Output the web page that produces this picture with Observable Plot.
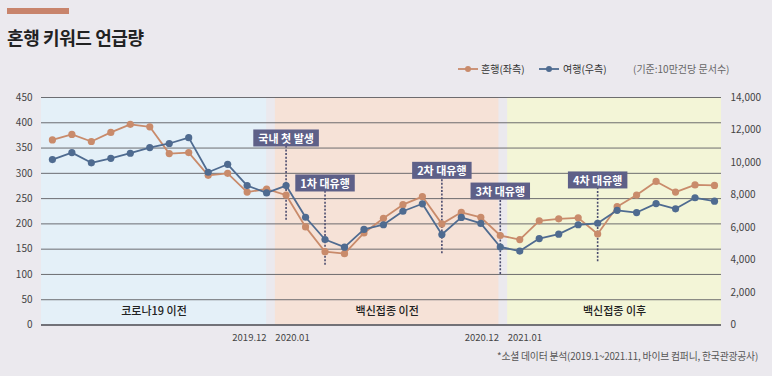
<!DOCTYPE html>
<html><head><meta charset="utf-8">
<script src="https://cdn.jsdelivr.net/npm/d3@7"></script>
<script src="https://cdn.jsdelivr.net/npm/@observablehq/plot@0.6"></script>
<style>
body{margin:0;background:#ebe9ee;font-family:"Noto Sans CJK KR","Noto Sans",sans-serif;}
#wrap{position:relative;width:772px;height:376px;overflow:hidden;background:#ebe9ee;}
.bar{position:absolute;left:7px;top:8px;width:62px;height:6px;background:#c8846c;}
.title{position:absolute;left:7px;top:28px;font-size:18px;font-weight:bold;line-height:18px;color:#222;letter-spacing:-0.4px;}
.lg{position:absolute;top:62px;font-size:10px;line-height:14px;color:#333;white-space:nowrap;}
.lg svg{display:block;}
#chart{position:absolute;left:0;top:85px;}
.caption{position:absolute;right:14px;top:350px;font-size:9.8px;line-height:12px;color:#555;letter-spacing:-0.2px;white-space:nowrap;}
</style></head><body>
<div id="wrap">
  <div class="bar"></div>
  <div class="title">혼행 키워드 언급량</div>
  <div class="lg" style="left:458px;top:62px"><svg width="20" height="14"><line x1="0" y1="7" x2="20" y2="7" stroke="#c98b6b" stroke-width="1.8"/><circle cx="10" cy="7" r="3" fill="#c98b6b"/></svg></div>
  <div class="lg" id="lg1" style="left:481px"></div>
  <div class="lg" style="left:539px;top:62px"><svg width="20" height="14"><line x1="0" y1="7" x2="20" y2="7" stroke="#4f6b90" stroke-width="1.8"/><circle cx="10" cy="7" r="3" fill="#4f6b90"/></svg></div>
  <div class="lg" id="lg2" style="left:563px"></div>
  <div class="lg" id="lg3" style="left:633px;color:#666"></div>
  <div id="chart"></div>
  <div class="caption" id="cap"></div>
</div>
<script>
// ---- data ----
const months = ["2019.01","2019.02","2019.03","2019.04","2019.05","2019.06","2019.07","2019.08","2019.09","2019.10","2019.11","2019.12",
  "2020.01","2020.02","2020.03","2020.04","2020.05","2020.06","2020.07","2020.08","2020.09","2020.10","2020.11","2020.12",
  "2021.01","2021.02","2021.03","2021.04","2021.05","2021.06","2021.07","2021.08","2021.09","2021.10","2021.11"];
const honhaeng = [366,377,363,381,397,392,339,341,296,300,263,269,257,194,145,141,182,211,238,254,200,223,213,177,169,206,210,212,180,234,257,284,263,277,276];
const yeohaeng = [10180,10610,9980,10260,10570,10920,11170,11530,9400,9890,8580,8130,8580,6630,5260,4790,5880,6170,7000,7460,5570,6620,6250,4800,4550,5320,5590,6170,6260,7060,6920,7470,7150,7830,7620];
const leftTicks = [0,50,100,150,200,250,300,350,400,450];
const rightTicks = [0,2000,4000,6000,8000,10000,12000,14000];
const bandNames = ["코로나19 이전","백신접종 이전","백신접종 이후"];
const bandStart = [-0.56, 11.45, 23.38];
const bandEnd = [11.0, 22.93, 34.36];
const bandFills = ["#e4f0f8","#f6e2d7","#f3f5d7"];
const xLabels = ["2019.12","2020.01","2020.12","2021.01"];
const eventLabels = ["국내 첫 발생","1차 대유행","2차 대유행","3차 대유행","4차 대유행"];
const eventIdx = [12,14,20,23,28];
const eventTop = [367,278,303,262,284];
const eventBottom = [207,118,141,100,125];
const legendLabels = ["혼행(좌측)","여행(우측)","(기준:10만건당 문서수)"];
const caption = "*소셜 데이터 분석(2019.1~2021.11, 바이브 컴퍼니, 한국관광공사)";

document.getElementById("lg1").textContent = legendLabels[0];
document.getElementById("lg2").textContent = legendLabels[1];
document.getElementById("lg3").textContent = legendLabels[2];
document.getElementById("cap").textContent = caption;

const LMAX = 450, RMAX = 14000, k = LMAX / RMAX;
const ORANGE = "#c98b6b", BLUE = "#4f6b90", BOX = "#5e6088";
const data = months.map((m, i) => ({i, m, h: honhaeng[i], t: yeohaeng[i] * k}));
const bands = bandNames.map((name, j) => ({name, x1: bandStart[j], x2: bandEnd[j], fill: bandFills[j]}));
// period-boundary labels: end-of-period labels right-aligned, start-of-period labels left-aligned
const xlEnd = [{text: xLabels[0], x: bandEnd[0]}, {text: xLabels[2], x: bandEnd[1]}];
const xlStart = [{text: xLabels[1], x: bandStart[1]}, {text: xLabels[3], x: bandStart[2]}];
const events = eventLabels.map((label, j) => ({label, i: eventIdx[j], top: eventTop[j], bottom: eventBottom[j]}));
const FONT = '"Noto Sans CJK KR","Noto Sans",sans-serif';

const chart = Plot.plot({
  width: 772, height: 260,
  marginTop: 12, marginBottom: 20.5, marginLeft: 41, marginRight: 51,
  x: {domain: [bandStart[0], bandEnd[2]], axis: null},
  y: {domain: [0, LMAX], label: null, axis: null},
  style: {background: "transparent", fontFamily: FONT, fontSize: "10px", color: "#444", overflow: "visible"},
  marks: [
    Plot.rect(bands, {x1: "x1", x2: "x2", y1: 0, y2: LMAX, fill: "fill"}),
    Plot.ruleY(leftTicks.filter(d => d > 0), {stroke: "#5d5d62", strokeWidth: 0.9}),
    Plot.ruleY([0], {stroke: "#4a4a50", strokeWidth: 1.6}),
    Plot.axisY(leftTicks, {anchor: "left", tickSize: 0, tickPadding: 9, label: null, fill: "#444", fontSize: 10}),
    Plot.axisY(rightTicks.map(v => v * k), {anchor: "right", tickSize: 0, tickPadding: 9, label: null, fill: "#444", fontSize: 10,
      tickFormat: d => d3.format(",")(Math.round(d / k))}),
    Plot.text(bands, {x: d => (d.x1 + d.x2) / 2, y: 27, text: "name", fill: "#222", fontSize: 11, fontWeight: 500}),
    Plot.text(xlEnd, {x: "x", y: 0, text: "text", textAnchor: "end", dy: 12.5, fill: "#444", fontSize: 9.5}),
    Plot.text(xlStart, {x: "x", y: 0, text: "text", textAnchor: "start", dy: 12.5, fill: "#444", fontSize: 9.5}),
    Plot.ruleX(events, {x: "i", y1: "bottom", y2: "top", stroke: "#4b4c6e", strokeWidth: 1.6, strokeDasharray: "2,1.6"}),
    Plot.line(data, {x: "i", y: "h", stroke: ORANGE, strokeWidth: 1.8}),
    Plot.dot(data, {x: "i", y: "h", fill: ORANGE, r: 3.6}),
    Plot.line(data, {x: "i", y: "t", stroke: BLUE, strokeWidth: 1.8}),
    Plot.dot(data, {x: "i", y: "t", fill: BLUE, r: 3.6}),
    Plot.text(events, {x: "i", y: "top", text: "label", fill: "white", fontSize: 11, fontWeight: "bold", className: "evt"})
  ]
});
document.getElementById("chart").appendChild(chart);

// draw a box behind each event label, sized from the rendered text
let evtTexts = chart.querySelectorAll(".evt text");
if (!evtTexts.length) {
  const gs = [...chart.querySelectorAll("g")].filter(g => g.getAttribute("fill") === "white");
  evtTexts = gs.length ? gs[gs.length - 1].querySelectorAll("text") : [];
}
evtTexts.forEach(t => {
  const b = t.getBBox();
  const r = document.createElementNS("http://www.w3.org/2000/svg", "rect");
  const padX = 5, padY = 0.5;
  r.setAttribute("x", b.x - padX);
  r.setAttribute("y", b.y - padY);
  r.setAttribute("width", b.width + 2 * padX);
  r.setAttribute("height", b.height + 2 * padY);
  r.setAttribute("fill", BOX);
  if (t.getAttribute("transform")) r.setAttribute("transform", t.getAttribute("transform"));
  t.parentNode.insertBefore(r, t);
});
</script>
</body></html>
